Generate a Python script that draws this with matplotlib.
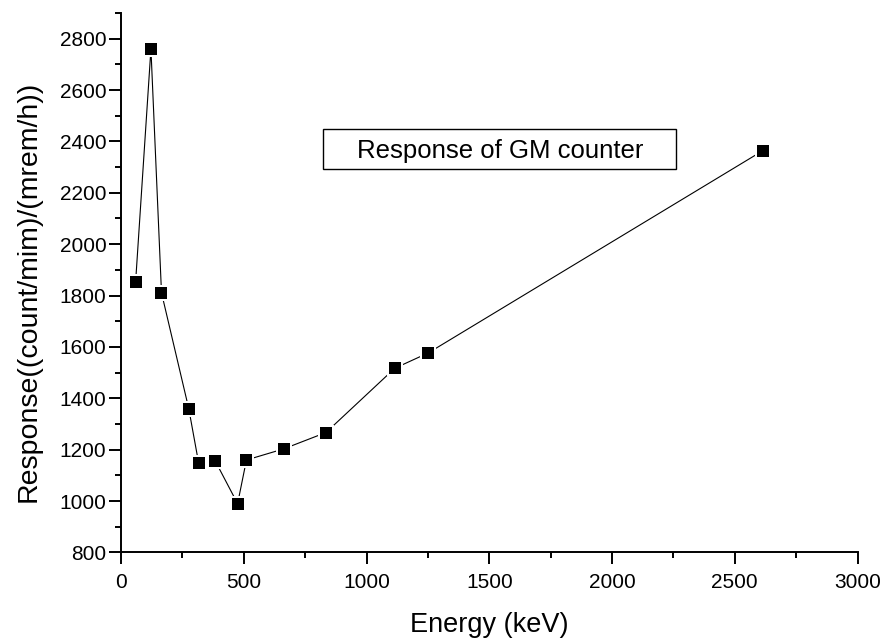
import matplotlib
matplotlib.use("Agg")
import matplotlib.pyplot as plt
from matplotlib.patches import Rectangle
from matplotlib.ticker import MultipleLocator

plt.rcParams['font.family'] = ['Liberation Sans', 'DejaVu Sans']

# GM counter response vs photon energy
energy_kev = [59.5, 122, 165, 276, 316, 384, 475, 511, 662, 835, 1115, 1252, 2614]
response = [1852, 2760, 1811, 1360, 1150, 1156, 990, 1160, 1203, 1267, 1517, 1577, 2364]

legend_text = "Response of GM counter"
x_label = "Energy (keV)"
y_label = "Response((count/mim)/(mrem/h))"

fig = plt.figure(figsize=(8.85, 6.39), dpi=100)
ax = fig.add_axes([0.1367, 0.1354, 0.8323, 0.8443])

ax.plot(energy_kev, response, color='black', lw=0.8, zorder=2)
ax.plot(energy_kev, response, ls='none', marker='s', ms=11, mfc='white',
        mec='white', mew=0, zorder=3)
ax.plot(energy_kev, response, ls='none', marker='s', ms=8, mfc='black',
        mec='black', mew=0, zorder=4)

ax.set_xlim(0, 3000)
ax.set_ylim(800, 2900)
ax.xaxis.set_major_locator(MultipleLocator(500))
ax.xaxis.set_minor_locator(MultipleLocator(250))
ax.yaxis.set_major_locator(MultipleLocator(200))
ax.yaxis.set_minor_locator(MultipleLocator(100))
ax.set_yticks(range(800, 2801, 200))

for side in ('top', 'right'):
    ax.spines[side].set_visible(False)
for side in ('left', 'bottom'):
    ax.spines[side].set_linewidth(1.4)

ax.tick_params(which='major', direction='out', length=8.5, width=1.4,
               labelsize=15)
ax.tick_params(which='minor', direction='out', length=4.3, width=1.4)
ax.tick_params(axis='x', which='major', pad=6.5)
ax.tick_params(axis='y', which='major', pad=2)

ax.set_xlabel(x_label, fontsize=19.5, labelpad=14.5)
ax.set_ylabel(y_label, fontsize=20.5, labelpad=13)
ax.yaxis.label.set_y(0.484)

# Boxed annotation
x0, x1, y0, y1 = 0.2747, 0.7536, 0.7103, 0.7844
ax.add_patch(Rectangle((x0, y0), x1 - x0, y1 - y0, transform=ax.transAxes,
                       fill=False, ec='black', lw=1.0, zorder=5))
ax.text((x0 + x1) / 2, (y0 + y1) / 2 - 0.003, legend_text, transform=ax.transAxes,
        ha='center', va='center', fontsize=18.5, zorder=6)

fig.savefig("out.png", dpi=100)
